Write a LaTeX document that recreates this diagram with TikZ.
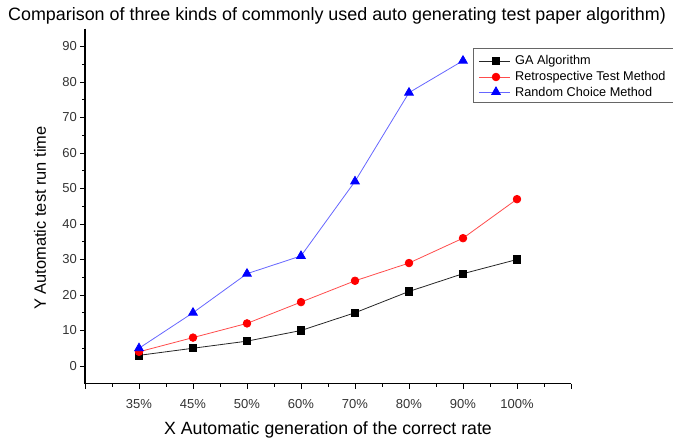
\documentclass[tikz,border=0pt]{standalone}
\usepackage{fontspec}
\setmainfont{Liberation Sans}
\usetikzlibrary{plotmarks}
\begin{document}
\begin{tikzpicture}[x=54pt,y=3.55pt,
  ticklab/.style={font=\fontsize{13}{15}\selectfont,text=black!80,inner sep=0pt},
  galine/.style={black!85,line width=0.8pt,mark=square*,mark size=3.6pt,mark options={black}},
  reline/.style={red!70,line width=0.8pt,mark=*,mark size=3.8pt,mark options={red}},
  rcline/.style={blue!60,line width=0.8pt,mark=triangle*,mark size=5pt,mark options={blue}}]
\useasboundingbox (-85pt,-75pt) rectangle (588pt,366pt);
% axes
\draw[line width=1.2pt] (0,95) -- (0,-5) -- (9,-5);
\foreach \y in {0,10,...,90} {
  \draw[line width=0.8pt] (0,\y) -- ++(-5pt,0);
  \node[ticklab,anchor=east] at ([xshift=-8pt]0,\y) {\y};
}
\foreach \y in {5,15,...,85}
  \draw[line width=0.8pt] (0,\y) -- ++(-3pt,0);
\foreach \x in {0,...,9}
  \draw[line width=0.8pt] (\x,-5) -- ++(0,-5pt);
\foreach \x in {0.5,1.5,...,8.5}
  \draw[line width=0.8pt] (\x,-5) -- ++(0,-3pt);
\foreach \x/\p in {1/35,2/45,3/50,4/60,5/70,6/80,7/90,8/100}
  \node[ticklab] at ([yshift=-20pt]\x,-5) {\p\%};
% labels
\node[anchor=west,font=\fontsize{17.9}{20}\selectfont,inner sep=0pt] (title) at (-77pt,350pt)
  {Comparison of three kinds of commonly used auto generating test paper algorithm)};
\node[rotate=90,font=\fontsize{16.4}{19}\selectfont] (ylab) at (-45pt,148pt) {Y Automatic test run time};
\node[font=\fontsize{17.7}{20}\selectfont] (xlab) at (243pt,-64pt) {X Automatic generation of the correct rate};
% data
\draw[galine] plot coordinates {(1,3) (2,5) (3,7) (4,10) (5,15) (6,21) (7,26) (8,30)};
\draw[reline] plot coordinates {(1,4) (2,8) (3,12) (4,18) (5,24) (6,29) (7,36) (8,47)};
\draw[rcline] plot coordinates {(1,5) (2,15) (3,26) (4,31) (5,52) (6,77) (7,86)};
% legend
\coordinate (leg) at (388pt,318pt);
\draw[black!60,line width=0.8pt] ([xshift=210pt]leg) -- (leg) -- ++(0,-54pt) -- ++(210pt,0);
\foreach \st/\dy/\txt in {galine/13/GA Algorithm,reline/29/Retrospective Test Method,rcline/44/Random Choice Method} {
  \draw[\st,mark=none] ([shift={(6pt,-\dy pt)}]leg) -- ++(31pt,0);
  \draw[\st] plot coordinates {([shift={(23pt,-\dy pt)}]leg)};
  \node[anchor=west,font=\fontsize{12.7}{15}\selectfont,inner sep=0pt] at ([shift={(42pt,-\dy pt)}]leg) {\txt};
}
\end{tikzpicture}
\end{document}
